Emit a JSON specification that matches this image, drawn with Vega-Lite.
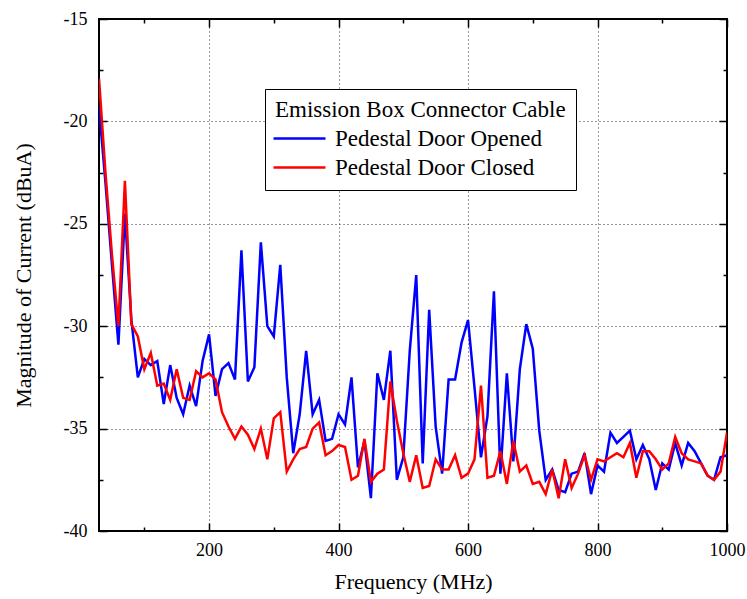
{
  "$schema": "https://vega.github.io/schema/vega-lite/v6.json",
  "width": 628,
  "height": 512,
  "autosize": "none",
  "padding": {"left": 99, "top": 19, "right": 20, "bottom": 68},
  "background": "white",
  "config": {
    "font": "Liberation Serif",
    "view": {"stroke": "black", "strokeWidth": 2},
    "axis": {
      "domain": false,
      "labelFont": "Liberation Serif",
      "titleFont": "Liberation Serif",
      "labelFontSize": 18,
      "titleFontSize": 22,
      "titleFontWeight": "normal",
      "labelColor": "black",
      "titleColor": "black",
      "tickColor": "black",
      "tickWidth": 1.5,
      "labelFlush": false,
      "gridColor": "#333",
      "gridDash": [1, 3],
      "gridWidth": 1
    }
  },
  "data": {
    "values": [
      {"f":30,"v":-19.3,"s":"Pedestal Door Opened"},{"f":40,"v":-23.0,"s":"Pedestal Door Opened"},{"f":50,"v":-27.0,"s":"Pedestal Door Opened"},{"f":60,"v":-30.9,"s":"Pedestal Door Opened"},{"f":70,"v":-24.5,"s":"Pedestal Door Opened"},{"f":80,"v":-29.7,"s":"Pedestal Door Opened"},{"f":90,"v":-32.5,"s":"Pedestal Door Opened"},{"f":100,"v":-31.6,"s":"Pedestal Door Opened"},{"f":110,"v":-31.9,"s":"Pedestal Door Opened"},{"f":120,"v":-31.7,"s":"Pedestal Door Opened"},
      {"f":130,"v":-33.8,"s":"Pedestal Door Opened"},{"f":140,"v":-31.9,"s":"Pedestal Door Opened"},{"f":150,"v":-33.5,"s":"Pedestal Door Opened"},{"f":160,"v":-34.3,"s":"Pedestal Door Opened"},{"f":170,"v":-32.9,"s":"Pedestal Door Opened"},{"f":180,"v":-33.9,"s":"Pedestal Door Opened"},{"f":190,"v":-31.7,"s":"Pedestal Door Opened"},{"f":200,"v":-30.4,"s":"Pedestal Door Opened"},{"f":210,"v":-33.4,"s":"Pedestal Door Opened"},{"f":220,"v":-32.1,"s":"Pedestal Door Opened"},
      {"f":230,"v":-31.8,"s":"Pedestal Door Opened"},{"f":240,"v":-32.6,"s":"Pedestal Door Opened"},{"f":250,"v":-26.3,"s":"Pedestal Door Opened"},{"f":260,"v":-32.7,"s":"Pedestal Door Opened"},{"f":270,"v":-32.0,"s":"Pedestal Door Opened"},{"f":280,"v":-25.9,"s":"Pedestal Door Opened"},{"f":290,"v":-30.0,"s":"Pedestal Door Opened"},{"f":300,"v":-30.5,"s":"Pedestal Door Opened"},{"f":310,"v":-27.0,"s":"Pedestal Door Opened"},{"f":320,"v":-32.5,"s":"Pedestal Door Opened"},
      {"f":330,"v":-36.2,"s":"Pedestal Door Opened"},{"f":340,"v":-34.3,"s":"Pedestal Door Opened"},{"f":350,"v":-31.2,"s":"Pedestal Door Opened"},{"f":360,"v":-34.3,"s":"Pedestal Door Opened"},{"f":370,"v":-33.6,"s":"Pedestal Door Opened"},{"f":380,"v":-35.6,"s":"Pedestal Door Opened"},{"f":390,"v":-35.5,"s":"Pedestal Door Opened"},{"f":400,"v":-34.3,"s":"Pedestal Door Opened"},{"f":410,"v":-34.8,"s":"Pedestal Door Opened"},{"f":420,"v":-32.5,"s":"Pedestal Door Opened"},
      {"f":430,"v":-36.9,"s":"Pedestal Door Opened"},{"f":440,"v":-35.6,"s":"Pedestal Door Opened"},{"f":450,"v":-38.4,"s":"Pedestal Door Opened"},{"f":460,"v":-32.3,"s":"Pedestal Door Opened"},{"f":470,"v":-33.6,"s":"Pedestal Door Opened"},{"f":480,"v":-31.2,"s":"Pedestal Door Opened"},{"f":490,"v":-37.5,"s":"Pedestal Door Opened"},{"f":500,"v":-36.4,"s":"Pedestal Door Opened"},{"f":510,"v":-31.2,"s":"Pedestal Door Opened"},{"f":520,"v":-27.5,"s":"Pedestal Door Opened"},
      {"f":530,"v":-36.7,"s":"Pedestal Door Opened"},{"f":540,"v":-29.2,"s":"Pedestal Door Opened"},{"f":550,"v":-34.9,"s":"Pedestal Door Opened"},{"f":560,"v":-37.2,"s":"Pedestal Door Opened"},{"f":570,"v":-32.6,"s":"Pedestal Door Opened"},{"f":580,"v":-32.6,"s":"Pedestal Door Opened"},{"f":590,"v":-30.8,"s":"Pedestal Door Opened"},{"f":600,"v":-29.7,"s":"Pedestal Door Opened"},{"f":610,"v":-33.0,"s":"Pedestal Door Opened"},{"f":620,"v":-36.4,"s":"Pedestal Door Opened"},
      {"f":630,"v":-34.4,"s":"Pedestal Door Opened"},{"f":640,"v":-28.3,"s":"Pedestal Door Opened"},{"f":650,"v":-37.2,"s":"Pedestal Door Opened"},{"f":660,"v":-32.3,"s":"Pedestal Door Opened"},{"f":670,"v":-36.6,"s":"Pedestal Door Opened"},{"f":680,"v":-32.1,"s":"Pedestal Door Opened"},{"f":690,"v":-29.9,"s":"Pedestal Door Opened"},{"f":700,"v":-31.1,"s":"Pedestal Door Opened"},{"f":710,"v":-35.1,"s":"Pedestal Door Opened"},{"f":720,"v":-37.5,"s":"Pedestal Door Opened"},
      {"f":730,"v":-37.0,"s":"Pedestal Door Opened"},{"f":740,"v":-38.0,"s":"Pedestal Door Opened"},{"f":750,"v":-38.1,"s":"Pedestal Door Opened"},{"f":760,"v":-37.2,"s":"Pedestal Door Opened"},{"f":770,"v":-37.1,"s":"Pedestal Door Opened"},{"f":780,"v":-36.2,"s":"Pedestal Door Opened"},{"f":790,"v":-38.2,"s":"Pedestal Door Opened"},{"f":800,"v":-36.8,"s":"Pedestal Door Opened"},{"f":810,"v":-37.1,"s":"Pedestal Door Opened"},{"f":820,"v":-35.2,"s":"Pedestal Door Opened"},
      {"f":830,"v":-35.7,"s":"Pedestal Door Opened"},{"f":840,"v":-35.4,"s":"Pedestal Door Opened"},{"f":850,"v":-35.1,"s":"Pedestal Door Opened"},{"f":860,"v":-36.5,"s":"Pedestal Door Opened"},{"f":870,"v":-35.8,"s":"Pedestal Door Opened"},{"f":880,"v":-36.5,"s":"Pedestal Door Opened"},{"f":890,"v":-38.0,"s":"Pedestal Door Opened"},{"f":900,"v":-36.7,"s":"Pedestal Door Opened"},{"f":910,"v":-37.0,"s":"Pedestal Door Opened"},{"f":920,"v":-35.7,"s":"Pedestal Door Opened"},
      {"f":930,"v":-36.8,"s":"Pedestal Door Opened"},{"f":940,"v":-35.7,"s":"Pedestal Door Opened"},{"f":950,"v":-36.1,"s":"Pedestal Door Opened"},{"f":960,"v":-36.7,"s":"Pedestal Door Opened"},{"f":970,"v":-37.3,"s":"Pedestal Door Opened"},{"f":980,"v":-37.5,"s":"Pedestal Door Opened"},{"f":990,"v":-36.4,"s":"Pedestal Door Opened"},{"f":1000,"v":-36.3,"s":"Pedestal Door Opened"},
      {"f":30,"v":-17.9,"s":"Pedestal Door Closed"},{"f":40,"v":-22.5,"s":"Pedestal Door Closed"},{"f":50,"v":-26.5,"s":"Pedestal Door Closed"},{"f":60,"v":-30.0,"s":"Pedestal Door Closed"},{"f":70,"v":-22.9,"s":"Pedestal Door Closed"},{"f":80,"v":-29.9,"s":"Pedestal Door Closed"},{"f":90,"v":-30.5,"s":"Pedestal Door Closed"},{"f":100,"v":-32.1,"s":"Pedestal Door Closed"},{"f":110,"v":-31.3,"s":"Pedestal Door Closed"},{"f":120,"v":-32.9,"s":"Pedestal Door Closed"},
      {"f":130,"v":-32.8,"s":"Pedestal Door Closed"},{"f":140,"v":-33.6,"s":"Pedestal Door Closed"},{"f":150,"v":-32.1,"s":"Pedestal Door Closed"},{"f":160,"v":-33.5,"s":"Pedestal Door Closed"},{"f":170,"v":-33.6,"s":"Pedestal Door Closed"},{"f":180,"v":-32.2,"s":"Pedestal Door Closed"},{"f":190,"v":-32.5,"s":"Pedestal Door Closed"},{"f":200,"v":-32.3,"s":"Pedestal Door Closed"},{"f":210,"v":-32.6,"s":"Pedestal Door Closed"},{"f":220,"v":-34.2,"s":"Pedestal Door Closed"},
      {"f":230,"v":-34.9,"s":"Pedestal Door Closed"},{"f":240,"v":-35.5,"s":"Pedestal Door Closed"},{"f":250,"v":-34.9,"s":"Pedestal Door Closed"},{"f":260,"v":-35.3,"s":"Pedestal Door Closed"},{"f":270,"v":-36.0,"s":"Pedestal Door Closed"},{"f":280,"v":-35.0,"s":"Pedestal Door Closed"},{"f":290,"v":-36.5,"s":"Pedestal Door Closed"},{"f":300,"v":-34.5,"s":"Pedestal Door Closed"},{"f":310,"v":-34.2,"s":"Pedestal Door Closed"},{"f":320,"v":-37.1,"s":"Pedestal Door Closed"},
      {"f":330,"v":-36.5,"s":"Pedestal Door Closed"},{"f":340,"v":-36.0,"s":"Pedestal Door Closed"},{"f":350,"v":-35.9,"s":"Pedestal Door Closed"},{"f":360,"v":-35.0,"s":"Pedestal Door Closed"},{"f":370,"v":-34.7,"s":"Pedestal Door Closed"},{"f":380,"v":-36.3,"s":"Pedestal Door Closed"},{"f":390,"v":-36.1,"s":"Pedestal Door Closed"},{"f":400,"v":-35.8,"s":"Pedestal Door Closed"},{"f":410,"v":-35.9,"s":"Pedestal Door Closed"},{"f":420,"v":-37.5,"s":"Pedestal Door Closed"},
      {"f":430,"v":-37.3,"s":"Pedestal Door Closed"},{"f":440,"v":-35.5,"s":"Pedestal Door Closed"},{"f":450,"v":-37.6,"s":"Pedestal Door Closed"},{"f":460,"v":-37.2,"s":"Pedestal Door Closed"},{"f":470,"v":-37.0,"s":"Pedestal Door Closed"},{"f":480,"v":-32.7,"s":"Pedestal Door Closed"},{"f":490,"v":-34.6,"s":"Pedestal Door Closed"},{"f":500,"v":-36.2,"s":"Pedestal Door Closed"},{"f":510,"v":-37.6,"s":"Pedestal Door Closed"},{"f":520,"v":-36.3,"s":"Pedestal Door Closed"},
      {"f":530,"v":-37.9,"s":"Pedestal Door Closed"},{"f":540,"v":-37.8,"s":"Pedestal Door Closed"},{"f":550,"v":-36.5,"s":"Pedestal Door Closed"},{"f":560,"v":-37.0,"s":"Pedestal Door Closed"},{"f":570,"v":-37.0,"s":"Pedestal Door Closed"},{"f":580,"v":-36.3,"s":"Pedestal Door Closed"},{"f":590,"v":-37.4,"s":"Pedestal Door Closed"},{"f":600,"v":-37.2,"s":"Pedestal Door Closed"},{"f":610,"v":-36.5,"s":"Pedestal Door Closed"},{"f":620,"v":-32.9,"s":"Pedestal Door Closed"},
      {"f":630,"v":-37.4,"s":"Pedestal Door Closed"},{"f":640,"v":-37.3,"s":"Pedestal Door Closed"},{"f":650,"v":-36.1,"s":"Pedestal Door Closed"},{"f":660,"v":-37.7,"s":"Pedestal Door Closed"},{"f":670,"v":-35.6,"s":"Pedestal Door Closed"},{"f":680,"v":-37.1,"s":"Pedestal Door Closed"},{"f":690,"v":-36.8,"s":"Pedestal Door Closed"},{"f":700,"v":-37.7,"s":"Pedestal Door Closed"},{"f":710,"v":-37.6,"s":"Pedestal Door Closed"},{"f":720,"v":-38.2,"s":"Pedestal Door Closed"},
      {"f":730,"v":-37.0,"s":"Pedestal Door Closed"},{"f":740,"v":-38.4,"s":"Pedestal Door Closed"},{"f":750,"v":-36.5,"s":"Pedestal Door Closed"},{"f":760,"v":-37.9,"s":"Pedestal Door Closed"},{"f":770,"v":-37.2,"s":"Pedestal Door Closed"},{"f":780,"v":-36.3,"s":"Pedestal Door Closed"},{"f":790,"v":-37.5,"s":"Pedestal Door Closed"},{"f":800,"v":-36.5,"s":"Pedestal Door Closed"},{"f":810,"v":-36.6,"s":"Pedestal Door Closed"},{"f":820,"v":-36.4,"s":"Pedestal Door Closed"},
      {"f":830,"v":-36.2,"s":"Pedestal Door Closed"},{"f":840,"v":-36.4,"s":"Pedestal Door Closed"},{"f":850,"v":-35.7,"s":"Pedestal Door Closed"},{"f":860,"v":-37.4,"s":"Pedestal Door Closed"},{"f":870,"v":-36.1,"s":"Pedestal Door Closed"},{"f":880,"v":-36.1,"s":"Pedestal Door Closed"},{"f":890,"v":-36.5,"s":"Pedestal Door Closed"},{"f":900,"v":-37.0,"s":"Pedestal Door Closed"},{"f":910,"v":-36.7,"s":"Pedestal Door Closed"},{"f":920,"v":-35.4,"s":"Pedestal Door Closed"},
      {"f":930,"v":-36.2,"s":"Pedestal Door Closed"},{"f":940,"v":-36.5,"s":"Pedestal Door Closed"},{"f":950,"v":-36.6,"s":"Pedestal Door Closed"},{"f":960,"v":-36.7,"s":"Pedestal Door Closed"},{"f":970,"v":-37.3,"s":"Pedestal Door Closed"},{"f":980,"v":-37.5,"s":"Pedestal Door Closed"},{"f":990,"v":-37.1,"s":"Pedestal Door Closed"},{"f":1000,"v":-35.2,"s":"Pedestal Door Closed"}
    ]
  },
  "layer": [
    {
      "mark": {"type": "line", "strokeWidth": 2.5, "clip": true},
      "encoding": {
        "x": {
          "field": "f", "type": "quantitative",
          "scale": {"domain": [30, 1000], "nice": false, "zero": false},
          "axis": {
            "title": "Frequency (MHz)",
            "values": [100, 200, 300, 400, 500, 600, 700, 800, 900, 1000],
            "labelExpr": "datum.value % 200 === 0 ? '' + datum.value : ''",
            "tickSize": {"condition": {"test": "datum.value % 200 === 0", "value": -8}, "value": -4},
            "labelPadding": 18,
            "titlePadding": 12,
            "gridOpacity": {"condition": {"test": "datum.value % 200 === 0 && datum.value < 1000", "value": 1}, "value": 0}
          }
        },
        "y": {
          "field": "v", "type": "quantitative",
          "scale": {"domain": [-40, -15], "nice": false, "zero": false},
          "axis": {
            "title": "Magnitude of Current (dBuA)",
            "values": [-40, -37.5, -35, -32.5, -30, -27.5, -25, -22.5, -20, -17.5, -15],
            "labelExpr": "datum.value % 5 === 0 ? '' + datum.value : ''",
            "tickSize": {"condition": {"test": "datum.value % 5 === 0", "value": -8}, "value": -4},
            "labelPadding": 20,
            "titlePadding": 28,
            "gridOpacity": {"condition": {"test": "datum.value % 5 === 0 && datum.value > -40 && datum.value < -15", "value": 1}, "value": 0}
          }
        },
        "color": {
          "field": "s", "type": "nominal",
          "scale": {"domain": ["Pedestal Door Opened", "Pedestal Door Closed"], "range": ["#0000ff", "#ff0000"]},
          "legend": {
            "title": "Emission Box Connector Cable",
            "orient": "none",
            "legendX": 166,
            "legendY": 70,
            "strokeColor": "black",
            "fillColor": "white",
            "padding": 10,
            "symbolType": "M-13,0H39",
            "symbolSize": 4,
            "symbolStrokeWidth": 2.5,
            "labelFont": "Liberation Serif",
            "titleFont": "Liberation Serif",
            "labelFontSize": 23,
            "titleFontSize": 23,
            "titleFontWeight": "normal",
            "labelColor": "black",
            "titleColor": "black",
            "labelOffset": 37,
            "rowPadding": 5,
            "titlePadding": 5,
            "labelLimit": 400,
            "titleLimit": 400
          }
        }
      }
    },
    {
      "mark": {"type": "point", "opacity": 0},
      "encoding": {
        "x": {
          "field": "f", "type": "quantitative",
          "axis": {
            "orient": "top", "title": null, "labels": false, "grid": false,
            "values": [100, 200, 300, 400, 500, 600, 700, 800, 900, 1000],
            "tickSize": {"condition": {"test": "datum.value % 200 === 0", "value": -8}, "value": -4}
          }
        },
        "y": {
          "field": "v", "type": "quantitative",
          "axis": {
            "orient": "right", "title": null, "labels": false, "grid": false,
            "values": [-40, -37.5, -35, -32.5, -30, -27.5, -25, -22.5, -20, -17.5, -15],
            "tickSize": {"condition": {"test": "datum.value % 5 === 0", "value": -8}, "value": -4}
          }
        }
      }
    }
  ],
  "resolve": {"axis": {"x": "independent", "y": "independent"}}
}
